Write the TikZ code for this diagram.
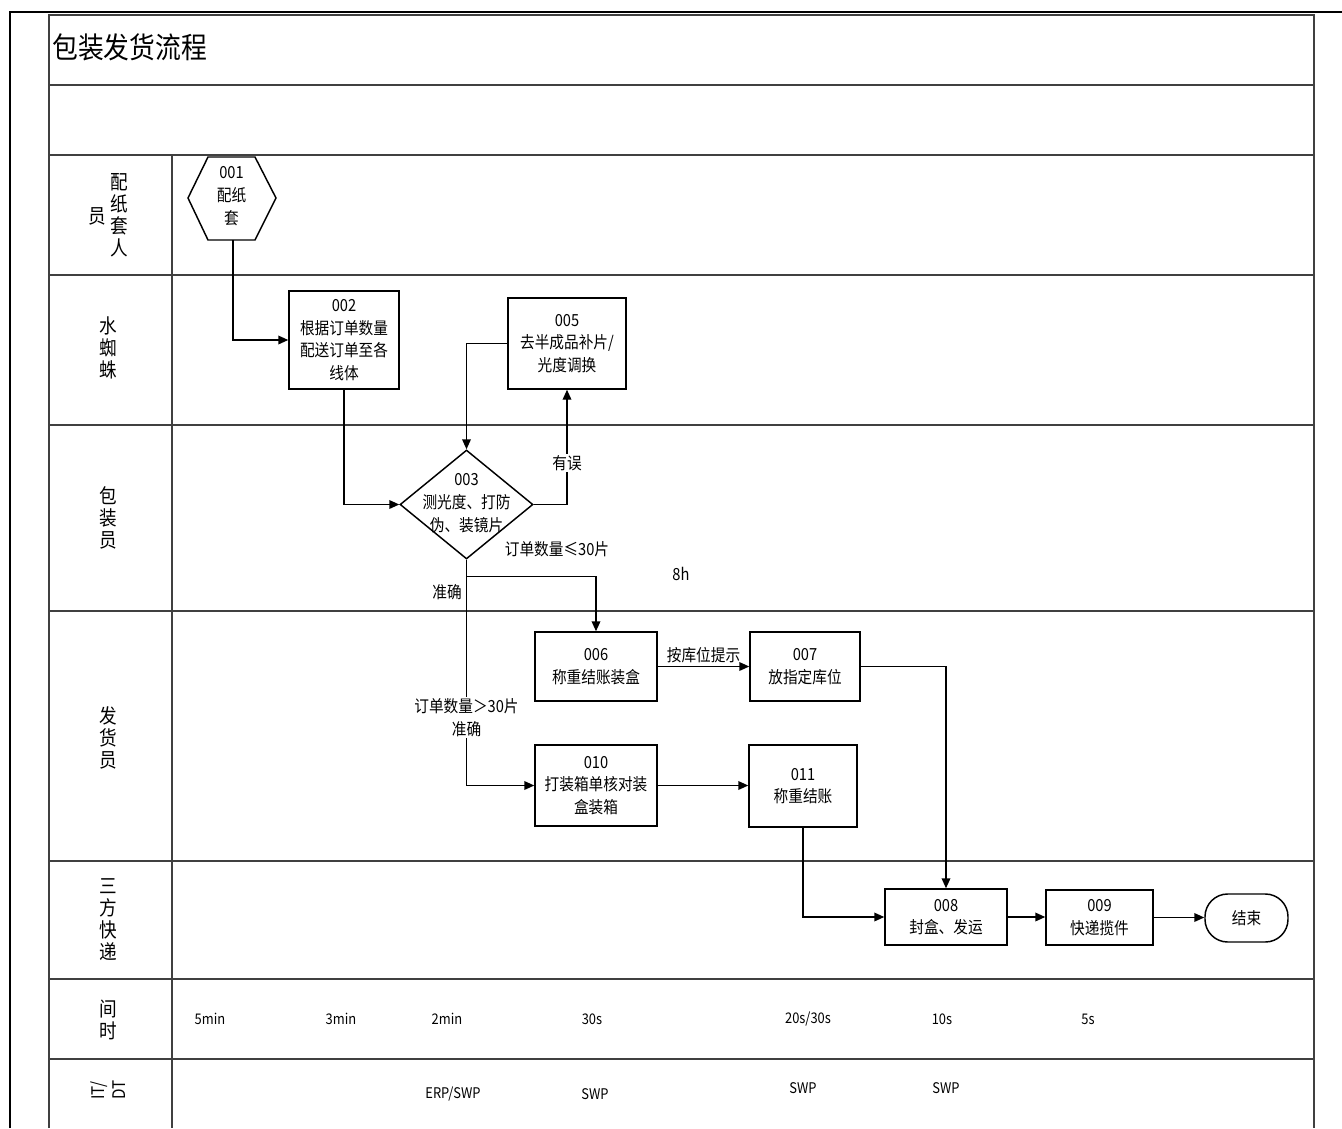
\documentclass[tikz,border=0pt]{standalone}
\usepackage{fontspec}
\setmainfont{Noto Sans CJK SC}[FakeStretch=0.88]
\usetikzlibrary{shapes.geometric,arrows.meta}
\begin{document}
\begin{tikzpicture}[x=0.75pt,y=-0.75pt,
  grid/.style={draw=black!75,line width=1.8pt},
  shapeline/.style={draw=black,line width=1.1pt},
  proc/.style={shapeline,align=center,font=\fontsize{12.5}{17}\selectfont,inner sep=1pt},
  flow/.style={draw=black,line width=1.1pt,-{Triangle[length=7.5pt,width=6.5pt]}},
  lane/.style={align=center,font=\fontsize{15}{16.5}\selectfont,inner sep=0pt},
  lbl/.style={font=\fontsize{12.5}{17}\selectfont,align=center,inner sep=1pt},
  cell/.style={font=\fontsize{11}{13}\selectfont,inner sep=1pt}]

\useasboundingbox (0,0) rectangle (1342,1128);
\fill[white] (0,0) rectangle (1342,1128);

% outer frame
\draw[black,line width=2.2pt] (10,1128) -- (10,12) -- (1342,12);
% table grid
\draw[grid] (49,1128) -- (49,15) -- (1314,15) -- (1314,1128);
\foreach \yy in {85,155,275,425,611,861,979,1059} \draw[grid] (49,\yy) -- (1314,\yy);
\draw[grid] (172,155) -- (172,1128);

% title
\node[anchor=west,font=\fontsize{22}{24}\selectfont,inner sep=0pt] (title) at (52,47) {包装发货流程};

% lane labels
\node[lane] (lane1a) at (119,215) {配\\纸\\套\\人};
\node[lane] (lane1b) at (97,216) {员};
\node[lane] (lane2) at (108,348) {水\\蜘\\蛛};
\node[lane] (lane3) at (108,518) {包\\装\\员};
\node[lane] (lane4) at (108,738) {发\\货\\员};
\node[lane] (lane5) at (108,920) {三\\方\\快\\递};
\node[lane] (lane6) at (108,1020) {间\\时};
\node[lane,rotate=90,align=left,font=\fontsize{13}{15.5}\selectfont] (lane7) at (108,1090) {IT/\\DT};

% 001 hexagon
\draw[shapeline] (208,157) -- (255,157) -- (276,198) -- (255,240) -- (208,240) -- (188,198) -- cycle;
\coordinate (h001s) at (233,240);
\node[lbl] (n001) at (231.5,196) {001\\配纸\\套};

% process boxes
\node[proc,minimum width=82.5pt,minimum height=73.5pt] (n002) at (344,340) {002\\根据订单数量\\配送订单至各\\线体};
\node[proc,minimum width=88.5pt,minimum height=68.25pt] (n005) at (567,343.5) {005\\去半成品补片/\\光度调换};
\node[shapeline,diamond,minimum width=99.75pt,minimum height=81.75pt,inner sep=0pt] (d003) at (466.5,504.5) {};
\node[lbl] (t003) at (466.5,503) {003\\测光度、打防\\伪、装镜片};
\node[proc,minimum width=91.5pt,minimum height=51.75pt] (n006) at (596,666.5) {006\\称重结账装盒};
\node[proc,minimum width=82.5pt,minimum height=51.75pt] (n007) at (805,666.5) {007\\放指定库位};
\node[proc,minimum width=91.5pt,minimum height=60.75pt] (n010) at (596,785.5) {010\\打装箱单核对装\\盒装箱};
\node[proc,minimum width=81pt,minimum height=61.5pt] (n011) at (803,786) {011\\称重结账};
\node[proc,minimum width=91.5pt,minimum height=42pt] (n008) at (946,917) {008\\封盒、发运};
\node[proc,minimum width=80.25pt,minimum height=41.25pt] (n009) at (1099.5,917.5) {009\\快递揽件};
\node[proc,rounded corners=17pt,minimum width=62.25pt,minimum height=36pt] (nend) at (1246.5,918) {结束};

% free labels
\node[lbl] (lle30) at (557,549) {订单数量≤30片};
\node[lbl] (lok) at (447,592) {准确};
\node[lbl] (l8h) at (681,574) {8h};

% connectors
\draw[flow] (h001s) |- (n002.west);
\draw[flow] (n002.south) |- (d003.west);
\draw[flow] (n005.west) -| (d003.north);
\draw[flow] (d003.east) -| node[lbl,pos=0.68,fill=white] (lerr) {有误} (n005.south);
\draw[flow] (d003.south) -- ++(0,17) -| (n006.north);
\draw[flow] (d003.south) |- node[lbl,pos=0.35,fill=white] (lgt30) {订单数量＞30片\\准确} (n010.west);
\draw[flow] (n006.east) -- node[lbl,above=1pt] (lhint) {按库位提示} (n006.east -| n007.west);
\draw[flow] (n007.east) -| (n008.north);
\draw[flow] (n010.east) -- (n010.east -| n011.west);
\draw[flow] (n011.south) |- (n008.west);
\draw[flow] (n008.east) -- (n008.east -| n009.west);
\draw[flow] (n009.east) -- (n009.east -| nend.west);

% time row
\node[cell] (t1) at (210,1019) {5min};
\node[cell] (t2) at (341,1019) {3min};
\node[cell] (t3) at (447,1019) {2min};
\node[cell] (t4) at (592,1019) {30s};
\node[cell] (t5) at (808,1019) {20s/30s};
\node[cell] (t6) at (942,1019) {10s};
\node[cell] (t7) at (1088,1019) {5s};

% IT/DT row
\node[cell] (s1) at (453,1094) {ERP/SWP};
\node[cell] (s2) at (595,1094) {SWP};
\node[cell] (s3) at (803,1088) {SWP};
\node[cell] (s4) at (946,1088) {SWP};
\end{tikzpicture}
\end{document}
